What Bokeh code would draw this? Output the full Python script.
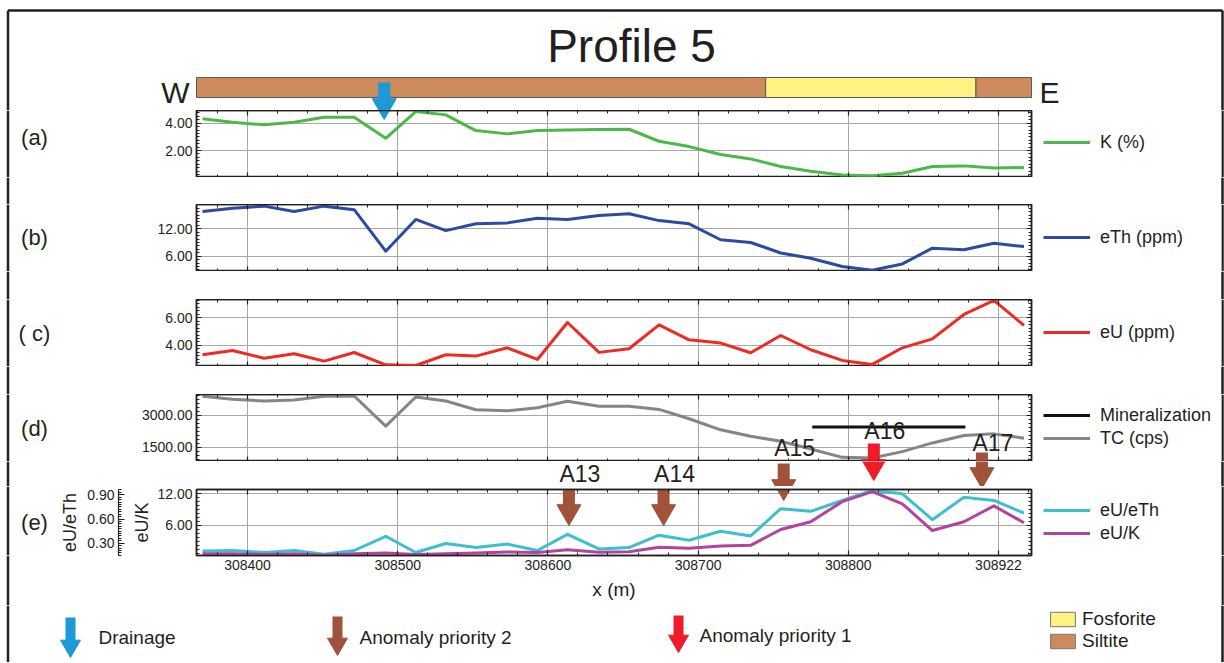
from bokeh.plotting import figure
from bokeh.models import (Range1d, LinearAxis, Grid, SingleIntervalTicker, FixedTicker,
                          NumeralTickFormatter, CustomJSTickFormatter, Legend, LegendItem,
                          ColumnDataSource)
from bokeh.layouts import column, row
from bokeh.core.properties import value
from bokeh.embed import file_html
from bokeh.resources import INLINE

# ---------------- data ----------------
DIST_M = [308370, 308390, 308411, 308431, 308451, 308471, 308492, 308512, 308532, 308552,
          308573, 308593, 308613, 308634, 308654, 308674, 308694, 308715, 308735, 308755,
          308775, 308796, 308816, 308836, 308856, 308877, 308897, 308917]
K_PCT = [4.32, 4.07, 3.88, 4.07, 4.44, 4.44, 2.90, 4.85, 4.61, 3.46, 3.22, 3.46, 3.51, 3.54,
         3.56, 2.68, 2.29, 1.71, 1.39, 0.83, 0.49, 0.22, 0.15, 0.34, 0.83, 0.88, 0.73, 0.76]
ETH_PPM = [15.8, 16.5, 16.97, 15.8, 16.97, 16.2, 7.1, 14.05, 11.6, 13.1, 13.3, 14.3, 14.05, 14.9,
           15.3, 13.8, 13.1, 9.6, 9.0, 6.7, 5.56, 3.73, 2.93, 4.3, 7.76, 7.4, 8.85, 8.1]
EU_PPM = [3.33, 3.64, 3.08, 3.40, 2.87, 3.49, 2.60, 2.55, 3.33, 3.23, 3.83, 2.99, 5.66, 3.50,
          3.76, 5.49, 4.41, 4.17, 3.47, 4.72, 3.69, 2.92, 2.63, 3.83, 4.48, 6.24, 7.25, 5.45]
TC_CPS = [3900, 3758, 3679, 3726, 3900, 3916, 2495, 3868, 3679, 3268, 3221, 3363, 3663, 3434,
          3434, 3284, 2842, 2321, 2021, 1784, 1421, 1026, 995, 1295, 1705, 2053, 2131, 1926]
EU_ETH = [0.205, 0.21, 0.185, 0.21, 0.165, 0.21, 0.386, 0.185, 0.296, 0.246, 0.29, 0.21, 0.41,
          0.23, 0.246, 0.40, 0.337, 0.448, 0.39, 0.728, 0.695, 0.83, 0.954, 0.913, 0.592, 0.87,
          0.83, 0.674]
EU_K = [0.65, 0.65, 0.52, 0.65, 0.39, 0.65, 0.77, 0.52, 0.65, 0.77, 0.97, 0.90, 1.42, 0.95,
        1.03, 1.86, 1.67, 2.10, 2.24, 5.24, 6.70, 10.5, 12.4, 10.1, 5.04, 6.70, 9.70, 6.50]
MINERAL_X = [308776, 308878]
MINERAL_TC = [2450, 2450]
LITHO_START = [308366, 308745, 308885]
LITHO_END = [308745, 308885, 308922]
LITHO_NAME = ["Siltite", "Fosforite", "Siltite"]
DRAINAGE_X = [308491]
ANOMALY_NAME = ["A13", "A14", "A15", "A16", "A17"]
ANOMALY_X = [308614, 308677, 308757, 308817, 308889]
ANOMALY_PRIORITY = [2, 2, 2, 1, 2]
X_TICK_LABELS = {308900: "308922"}

# ---------------- styling / layout ----------------
FONT = "Liberation Sans"
INK = "#231F20"
GRID = "#A8A8A8"
COL_K, COL_TH, COL_U, COL_TC = "#4DB848", "#2B4AA0", "#EE2A24", "#858585"
COL_MIN, COL_UTH, COL_UK = "#111111", "#3CC0CE", "#B2449E"
LITHO_COLOR = {"Siltite": "#CD8A5C", "Fosforite": "#FEF284"}
COL_DRAIN, COL_P2, COL_P1 = "#1B9AD7", "#A0523A", "#EC1C2A"
PRIORITY_COLOR = {1: COL_P1, 2: COL_P2}
NAN = float("nan")

FULL_W, LAB_W, EDGE_W = 1224, 55, 3
LEG_X0 = 1036
PANEL_W = LEG_X0 - LAB_W
LEG_W = FULL_W - EDGE_W - LEG_X0
FRAME_L, FRAME_R = 196, 1031
X0, X1 = 308366, 308922
M_PER_PX = (X1 - X0) / (FRAME_R - FRAME_L)
X_PANEL = Range1d(X0, X1)
X_FULL = Range1d(X0 - FRAME_L * M_PER_PX, X1 + (FULL_W - FRAME_R) * M_PER_PX)
XTICK = SingleIntervalTicker(interval=100, num_minor_ticks=5)
BORDER_L, BORDER_R, BORDER_T = 7.5, 1222.0, 10

ARROW_TOP = [487, 487, 463, 443, 452]
ARROW_TIP = [525, 525, 500, 480, 488]
ANOM_LABEL_Y = [473, 473, 447, 430, 442]
ANOM_COLORS = [PRIORITY_COLOR[p] for p in ANOMALY_PRIORITY]


def plain_fig(width, ctop, cbot, x_range, px_x):
    p = figure(width=width, height=cbot - ctop, x_range=x_range, y_range=Range1d(cbot, ctop),
               x_axis_type=None, y_axis_type=None, min_border=0, toolbar_location=None,
               title=None, output_backend="svg")
    p.outline_line_color = None
    p.border_fill_color = "white"
    p.background_fill_color = "white"
    p.extra_x_ranges = {"px": Range1d(*px_x)}
    y0 = max(ctop, BORDER_T)
    p.segment(x0=[BORDER_L, BORDER_R], y0=[y0, y0], x1=[BORDER_L, BORDER_R], y1=[cbot, cbot],
              x_range_name="px", line_color=INK, line_width=2.5)
    return p


def put_text(p, xs, ys, texts, size, align="center", x_range_name="px",
             y_range_name="default", x_offset=0):
    p.text(x=xs, y=ys, text=texts, text_font=value(FONT), text_font_size=value(size),
           text_color=INK, text_align=align, text_baseline="middle", x_offset=x_offset,
           x_range_name=x_range_name, y_range_name=y_range_name)


def put_arrows(p, xs, tops, tips, colors, shaft, head, x_range_name="default",
               y_range_name="default"):
    hlen = head * 0.866
    p.segment(x0=xs, y0=tops, x1=xs, y1=[t - hlen + 1.5 for t in tips], line_color=colors,
              line_width=shaft, x_range_name=x_range_name, y_range_name=y_range_name)
    p.scatter(x=xs, y=[t - 2 * hlen / 3 for t in tips], marker="inverted_triangle", size=head,
              fill_color=colors, line_color=colors, line_width=1,
              x_range_name=x_range_name, y_range_name=y_range_name)


def style_ticks(ax):
    ax.major_tick_in = 5
    ax.major_tick_out = 0
    ax.minor_tick_in = 3
    ax.minor_tick_out = 0
    ax.major_tick_line_color = INK
    ax.minor_tick_line_color = INK
    ax.major_tick_line_width = 1.2
    ax.minor_tick_line_width = 1
    ax.axis_line_color = INK
    ax.axis_line_width = 1.5
    ax.major_label_text_font = FONT
    ax.major_label_text_font_size = "14px"
    ax.major_label_text_color = INK
    ax.major_label_standoff = 4
    ax.axis_label_text_font = FONT
    ax.axis_label_text_font_style = "normal"
    ax.axis_label_text_color = INK


def blank_labels(ax):
    ax.formatter = CustomJSTickFormatter(code="return ''")
    ax.major_label_text_font_size = "0px"
    ax.major_label_standoff = 0


def panel_fig(ctop, ftop, fbot, yrange, yticker, bottom_extra=0, x_labels=False):
    p = figure(width=PANEL_W, height=fbot - ctop + bottom_extra, x_range=X_PANEL,
               y_range=yrange, x_axis_type=None, y_axis_type=None, min_border=0,
               min_border_left=FRAME_L - LAB_W, min_border_right=LEG_X0 - FRAME_R,
               min_border_top=ftop - ctop, min_border_bottom=bottom_extra,
               toolbar_location=None, title=None, output_backend="svg")
    p.extra_y_ranges = {"px": Range1d(fbot, ftop)}
    p.outline_line_color = INK
    p.outline_line_width = 1.5
    p.border_fill_color = "white"
    p.background_fill_color = "white"
    for loc in ("below", "above"):
        ax = LinearAxis(ticker=XTICK)
        style_ticks(ax)
        if loc == "below" and x_labels:
            ax.formatter = NumeralTickFormatter(format="0")
            ax.major_label_overrides = X_TICK_LABELS
        else:
            blank_labels(ax)
        p.add_layout(ax, loc)
    left = LinearAxis(ticker=yticker, formatter=NumeralTickFormatter(format="0.00"))
    style_ticks(left)
    p.add_layout(left, "left")
    right = LinearAxis(ticker=yticker)
    style_ticks(right)
    blank_labels(right)
    p.add_layout(right, "right")
    p.add_layout(Grid(dimension=0, ticker=XTICK, grid_line_color=GRID, grid_line_width=1))
    p.add_layout(Grid(dimension=1, ticker=yticker, grid_line_color=GRID, grid_line_width=1))
    return p, left


def legend_fig(ctop, cbot, entries, first_center):
    """entries: list of (label, line colour); legend drawn inside its own frame."""
    p = plain_fig(LEG_W, ctop, cbot, Range1d(LEG_X0, LEG_X0 + LEG_W), (LEG_X0, LEG_X0 + LEG_W))
    items = []
    for lab, col in entries:
        r = p.line(x=[NAN], y=[NAN], line_color=col, line_width=3)
        items.append(LegendItem(label=lab, renderers=[r]))
    n = len(entries)
    bottom = first_center + 23 * (n - 1) + 11
    leg = Legend(items=items, location=(1043 - LEG_X0, cbot - bottom), orientation="vertical",
                 glyph_width=47, glyph_height=22, label_height=22, label_standoff=10,
                 padding=0, margin=0, spacing=1, border_line_color=None,
                 background_fill_alpha=0, label_text_font=FONT, label_text_font_size="18px",
                 label_text_color=INK)
    p.add_layout(leg)
    return p


def label_fig(ctop, cbot, label, label_y):
    lf = plain_fig(LAB_W, ctop, cbot, Range1d(0, LAB_W), (0, LAB_W))
    if label:
        put_text(lf, [34], [label_y], [label], "22px")
    return lf


def edge_fig(ctop, cbot):
    return plain_fig(EDGE_W, ctop, cbot, Range1d(FULL_W - EDGE_W, FULL_W),
                     (FULL_W - EDGE_W, FULL_W))


def panel_row(pfig, ctop, cbot, label, label_y, entries, first_center, split=None):
    if split is None:
        return row(label_fig(ctop, cbot, label, label_y), pfig,
                   legend_fig(ctop, cbot, entries, first_center), edge_fig(ctop, cbot),
                   spacing=0)
    lcol = column(label_fig(ctop, split, label, label_y), label_fig(split, cbot, None, None),
                  spacing=0)
    gcol = column(legend_fig(ctop, split, entries, first_center),
                  plain_fig(LEG_W, split, cbot, Range1d(LEG_X0, LEG_X0 + LEG_W),
                            (LEG_X0, LEG_X0 + LEG_W)), spacing=0)
    ecol = column(edge_fig(ctop, split), edge_fig(split, cbot), spacing=0)
    return row(lcol, pfig, gcol, ecol, spacing=0)


def gap_fig(ctop, cbot):
    return plain_fig(FULL_W, ctop, cbot, X_FULL, (0, FULL_W))


# ---------------- header: title + lithology bar ----------------
fh = plain_fig(FULL_W, 0, 110, X_FULL, (0, FULL_W))
fh.segment(x0=[BORDER_L], y0=[BORDER_T], x1=[BORDER_R], y1=[BORDER_T], x_range_name="px",
           line_color=INK, line_width=2.5)
litho_src = ColumnDataSource(dict(left=LITHO_START, right=LITHO_END, name=LITHO_NAME,
                                  color=[LITHO_COLOR[n] for n in LITHO_NAME]))
fh.quad(left="left", right="right", top=77, bottom=97, fill_color="color",
        line_color="#5A5A5A", line_width=1, source=litho_src)
put_text(fh, [631], [45], ["Profile 5"], "46px")
put_text(fh, [175, 1049], [92, 92], ["W", "E"], "30px")
put_arrows(fh, DRAINAGE_X, [82], [119], [COL_DRAIN], 12, 24)

# ---------------- (a) K ----------------
fa, _ = panel_fig(110, 110, 177, Range1d(0.03, 4.93),
                  SingleIntervalTicker(interval=2, num_minor_ticks=8))
fa.line(DIST_M, K_PCT, line_color=COL_K, line_width=3, line_join="round")
put_arrows(fa, DRAINAGE_X, [82], [119], [COL_DRAIN], 12, 24, y_range_name="px")

# ---------------- (b) eTh ----------------
fb, _ = panel_fig(204, 204, 271, Range1d(2.64, 17.33),
                  SingleIntervalTicker(interval=6, num_minor_ticks=8))
fb.line(DIST_M, ETH_PPM, line_color=COL_TH, line_width=3, line_join="round")

# ---------------- (c) eU ----------------
fc, _ = panel_fig(299, 299, 366, Range1d(2.48, 7.32),
                  SingleIntervalTicker(interval=2, num_minor_ticks=8))
fc.line(DIST_M, EU_PPM, line_color=COL_U, line_width=3, line_join="round")

# ---------------- (d) TC ----------------
fd, _ = panel_fig(394, 394, 461, Range1d(830, 3985),
                  SingleIntervalTicker(interval=1500, num_minor_ticks=8))
fd.line(DIST_M, TC_CPS, line_color=COL_TC, line_width=3, line_join="round")
fd.line(MINERAL_X, MINERAL_TC, line_color=COL_MIN, line_width=3)
put_arrows(fd, ANOMALY_X, ARROW_TOP, ARROW_TIP, ANOM_COLORS, 12, 24, y_range_name="px")
in_d = [i for i, y in enumerate(ANOM_LABEL_Y) if y < 461]
put_text(fd, [ANOMALY_X[i] for i in in_d], [ANOM_LABEL_Y[i] for i in in_d],
         [ANOMALY_NAME[i] for i in in_d], "23px", x_range_name="default",
         y_range_name="px", x_offset=11)

# ---------------- (e) ratios ----------------
E_TOP = 486
fe, left_e = panel_fig(E_TOP, 489, 555, Range1d(0.32, 12.8),
                       SingleIntervalTicker(interval=6, num_minor_ticks=8),
                       bottom_extra=50, x_labels=True)
fe.extra_y_ranges["ratio"] = Range1d(0.148, 0.966)
left_e.axis_label = "eU/K"
left_e.axis_label_text_font_size = "18px"
left_e.axis_label_standoff = 2
spacer = LinearAxis(y_range_name="ratio", ticker=FixedTicker(ticks=[0.5]), major_tick_out=11,
                    major_tick_in=0, minor_tick_out=0, minor_tick_in=0, axis_line_color=None,
                    major_tick_line_color="white", minor_tick_line_color=None)
blank_labels(spacer)
fe.add_layout(spacer, "left")
ratio_ax = LinearAxis(y_range_name="ratio",
                      ticker=SingleIntervalTicker(interval=0.3, num_minor_ticks=10),
                      formatter=NumeralTickFormatter(format="0.00"))
style_ticks(ratio_ax)
ratio_ax.major_tick_in = 6
ratio_ax.axis_line_width = 1.2
ratio_ax.axis_label = "eU/eTh"
ratio_ax.axis_label_text_font_size = "18px"
ratio_ax.axis_label_standoff = 4
fe.add_layout(ratio_ax, "left")
bottom_e = fe.below[0]
bottom_e.axis_label = "x (m)"
bottom_e.axis_label_text_font_size = "19px"
bottom_e.axis_label_standoff = 6
fe.line(DIST_M, EU_ETH, y_range_name="ratio", line_color=COL_UTH, line_width=3,
        line_join="round")
fe.line(DIST_M, EU_K, line_color=COL_UK, line_width=3, line_join="round")
put_arrows(fe, ANOMALY_X, ARROW_TOP, ARROW_TIP, ANOM_COLORS, 12, 24, y_range_name="px")

# ---------------- gaps between panels ----------------
g_ab = gap_fig(177, 204)
g_bc = gap_fig(271, 299)
g_cd = gap_fig(366, 394)
g_de = gap_fig(461, E_TOP)
put_arrows(g_de, ANOMALY_X, ARROW_TOP, ARROW_TIP, ANOM_COLORS, 12, 24)
in_gap = [i for i, y in enumerate(ANOM_LABEL_Y) if y >= 461]
put_text(g_de, [ANOMALY_X[i] for i in in_gap], [ANOM_LABEL_Y[i] for i in in_gap],
         [ANOMALY_NAME[i] for i in in_gap], "23px", x_range_name="default", x_offset=11)

# ---------------- footer legend ----------------
ff = plain_fig(FULL_W, 605, 662, X_FULL, (0, FULL_W))
put_arrows(ff, [70, 337, 678], [617, 616, 615], [657, 655, 652], [COL_DRAIN, COL_P2, COL_P1],
           10, 20, x_range_name="px")
put_text(ff, [98, 359, 699], [637, 637, 635],
         ["Drainage", "Anomaly priority 2", "Anomaly priority 1"], "19px", align="left")
rf = ff.quad(left=[NAN], right=[NAN], top=[NAN], bottom=[NAN],
             fill_color=LITHO_COLOR["Fosforite"], line_color="#777777")
rs = ff.quad(left=[NAN], right=[NAN], top=[NAN], bottom=[NAN],
             fill_color=LITHO_COLOR["Siltite"], line_color="#777777")
litho_leg = Legend(items=[LegendItem(label="Fosforite", renderers=[rf]),
                          LegendItem(label="Siltite", renderers=[rs])],
                   location=(1047, 662 - 652), orientation="vertical",
                   glyph_width=31, glyph_height=18, label_height=22, label_standoff=4,
                   padding=0, margin=0, spacing=0, border_line_color=None,
                   background_fill_alpha=0, label_text_font=FONT, label_text_font_size="19px",
                   label_text_color=INK)
ff.add_layout(litho_leg)

layout = column(
    fh,
    panel_row(fa, 110, 177, "(a)", 137, [("K (%)", COL_K)], 142),
    g_ab,
    panel_row(fb, 204, 271, "(b)", 237, [("eTh (ppm)", COL_TH)], 237),
    g_bc,
    panel_row(fc, 299, 366, "( c)", 333, [("eU (ppm)", COL_U)], 332),
    g_cd,
    panel_row(fd, 394, 461, "(d)", 428, [("Mineralization", COL_MIN), ("TC (cps)", COL_TC)], 415),
    g_de,
    panel_row(fe, E_TOP, 605, "(e)", 522, [("eU/eTh", COL_UTH), ("eU/K", COL_UK)], 510,
              split=555),
    ff,
    spacing=0,
)
open("out.html", "w").write(file_html(layout, INLINE))
